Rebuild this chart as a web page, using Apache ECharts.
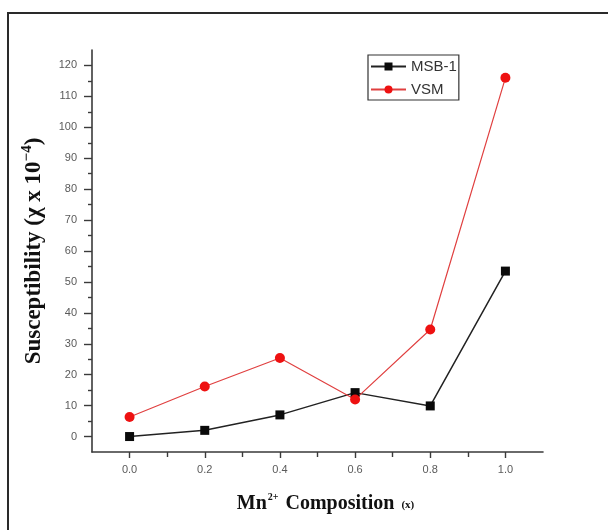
<!DOCTYPE html>
<html>
<head>
<meta charset="utf-8">
<script src="https://cdn.jsdelivr.net/npm/echarts@6/dist/echarts.min.js"></script>
<style>
html,body{margin:0;padding:0;background:#fff;}
#chart{width:608px;height:530px;}
</style>
</head>
<body>
<div id="chart"></div>
<script>
// ---- data ----
const compositions = [0.0, 0.2, 0.4, 0.6, 0.8, 1.0];
const msb1 = [0.0, 2.0, 7.0, 14.2, 9.9, 53.5];
const vsm = [6.3, 16.2, 25.4, 12.0, 34.6, 116.0];
const xMajorTicks = [0.0, 0.2, 0.4, 0.6, 0.8, 1.0];
const xMinorTicks = [0.1, 0.3, 0.5, 0.7, 0.9];
const yMajorTicks = [0, 10, 20, 30, 40, 50, 60, 70, 80, 90, 100, 110, 120];
const yMinorTicks = [5, 15, 25, 35, 45, 55, 65, 75, 85, 95, 105, 115];
const seriesNames = ['MSB-1', 'VSM'];

const chart = echarts.init(document.getElementById('chart'), null, {renderer: 'canvas'});

const axisColor = '#3a3a3a';
const labelFont = {color: '#5a5a5a', fontSize: 11, fontFamily: 'Liberation Sans, Arial, sans-serif'};

const option = {
  backgroundColor: '#fff',
  animation: false,
  grid: {left: 92, right: 65, top: 50, bottom: 78, outerBoundsMode: 'none'},
  graphic: [
    {type: 'rect', z: -10, shape: {x: 8, y: 13, width: 640, height: 560},
     style: {fill: 'none', stroke: '#2a2a2a', lineWidth: 2}}
  ],
  legend: {
    orient: 'vertical', left: 368, top: 55,
    data: seriesNames,
    borderColor: '#333', borderWidth: 1.2,
    padding: [4, 2, 3, 2], itemGap: 8,
    itemWidth: 35, itemHeight: 10,
    textStyle: {fontSize: 15, color: '#333', fontFamily: 'Liberation Sans, Arial, sans-serif', width: 55}
  },
  xAxis: [
    {
      type: 'value', min: -0.1, max: 1.1,
      name: '{b|Mn}{sup|2+}{b| Composition }{s|(x)}',
      nameLocation: 'middle', nameGap: 40,
      nameTextStyle: {
        padding: [0, 0, 0, 16],
        rich: {
          b: {fontFamily: 'Liberation Serif, Times New Roman, serif', fontWeight: 'bold', fontSize: 20, color: '#111'},
          sup: {fontFamily: 'Liberation Serif, Times New Roman, serif', fontWeight: 'bold', fontSize: 10, color: '#111', padding: [0, 2, 14, 1]},
          s: {fontFamily: 'Liberation Serif, Times New Roman, serif', fontWeight: 'bold', fontSize: 11, color: '#111', padding: [2, 0, 0, 2]}
        }
      },
      axisLine: {show: true, onZero: false, lineStyle: {color: axisColor, width: 1.6}},
      axisTick: {show: true, inside: false, length: 6, customValues: xMajorTicks, lineStyle: {color: axisColor, width: 1.4}},
      axisLabel: {show: true, margin: 12, customValues: xMajorTicks, formatter: v => v.toFixed(1), ...labelFont},
      splitLine: {show: false}
    },
    {
      type: 'value', min: -0.1, max: 1.1, position: 'bottom', offset: 0,
      axisLine: {show: false, onZero: false},
      axisTick: {show: true, inside: false, length: 5, customValues: xMinorTicks, lineStyle: {color: axisColor, width: 1.4}},
      axisLabel: {show: false},
      splitLine: {show: false}
    }
  ],
  yAxis: [
    {
      type: 'value', min: -5, max: 125,
      name: '{b|Susceptibility (χ x 10}{sup|−4}{b|)}',
      nameLocation: 'middle', nameRotate: 90, nameGap: 44,
      nameTextStyle: {
        rich: {
          b: {fontFamily: 'Liberation Serif, Times New Roman, serif', fontWeight: 'bold', fontSize: 23, color: '#111'},
          sup: {fontFamily: 'Liberation Serif, Times New Roman, serif', fontWeight: 'bold', fontSize: 15, color: '#111', padding: [0, 0, 13, 0]}
        }
      },
      axisLine: {show: true, onZero: false, lineStyle: {color: axisColor, width: 1.6}},
      axisTick: {show: true, inside: false, length: 8, customValues: yMajorTicks, lineStyle: {color: axisColor, width: 1.4}},
      axisLabel: {show: true, margin: 15, customValues: yMajorTicks, ...labelFont},
      splitLine: {show: false}
    },
    {
      type: 'value', min: -5, max: 125, position: 'left', offset: 0,
      axisLine: {show: false, onZero: false},
      axisTick: {show: true, inside: false, length: 4, customValues: yMinorTicks, lineStyle: {color: axisColor, width: 1.4}},
      axisLabel: {show: false},
      splitLine: {show: false}
    }
  ],
  series: [
    {
      name: seriesNames[0], type: 'line', xAxisIndex: 0, yAxisIndex: 0,
      data: compositions.map((x, i) => [x, msb1[i]]),
      symbol: 'rect', symbolSize: 9,
      itemStyle: {color: '#0a0a0a'},
      lineStyle: {color: '#222', width: 1.5}
    },
    {
      name: seriesNames[1], type: 'line', xAxisIndex: 0, yAxisIndex: 0,
      data: compositions.map((x, i) => [x, vsm[i]]),
      symbol: 'circle', symbolSize: 10,
      itemStyle: {color: '#ee1111'},
      lineStyle: {color: '#e04040', width: 1.2}
    }
  ]
};
chart.setOption(option);
</script>
</body>
</html>
